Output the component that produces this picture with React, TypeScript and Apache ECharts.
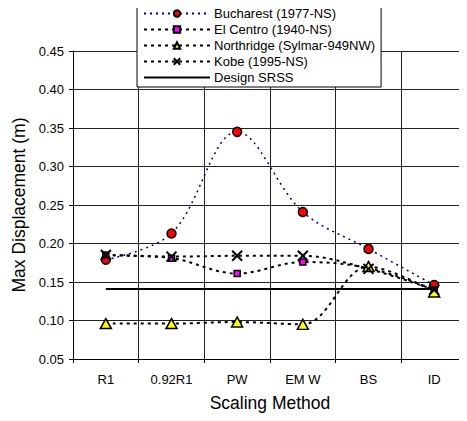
import React, { useEffect, useRef } from "react";
import * as echarts from "echarts";

const categories = ["R1", "0.92R1", "PW", "EM W", "BS", "ID"];
const bucharest = [0.179, 0.213, 0.345, 0.241, 0.193, 0.146];
const elCentro = [0.185, 0.181, 0.161, 0.176, 0.168, 0.14];
const northridge = [0.096, 0.096, 0.098, 0.095, 0.17, 0.137];
const kobe = [0.185, 0.183, 0.184, 0.184, 0.167, 0.14];
const designSRSS = [0.141, 0.141, 0.141, 0.141, 0.141, 0.141];
const seriesNames = [
  "Bucharest (1977-NS)",
  "El Centro (1940-NS)",
  "Northridge (Sylmar-949NW)",
  "Kobe (1995-NS)",
  "Design SRSS",
];

const FONT = "'Liberation Sans', Arial, sans-serif";

export default function App() {
  const ref = useRef<HTMLDivElement>(null);
  useEffect(() => {
    if (!ref.current) return;
    const chart = echarts.init(ref.current, null, { renderer: "svg" });
    const dashed = { color: "#000", width: 2, type: [3, 4] as number[] };
    chart.setOption({
      animation: false,
      backgroundColor: "#fff",
      textStyle: { fontFamily: FONT, color: "#000" },
      grid: { left: 73, top: 51, width: 397, bottom: 62 },
      legend: {
        orient: "vertical",
        left: 137,
        top: 4,
        padding: [3, 6, 3, 6],
        itemGap: 3,
        itemWidth: 66,
        itemHeight: 8,
        backgroundColor: "#fff",
        borderColor: "#000",
        borderWidth: 1,
        borderRadius: 0,
        textStyle: { fontFamily: FONT, fontSize: 13, color: "#000", padding: [0, 0, 0, -1] },
        data: [
          seriesNames[0],
          seriesNames[1],
          seriesNames[2],
          seriesNames[3],
          { name: seriesNames[4], itemStyle: { opacity: 0 } },
        ],
      },
      xAxis: {
        type: "category",
        data: categories,
        boundaryGap: true,
        name: "Scaling Method",
        nameLocation: "middle",
        nameGap: 35,
        nameTextStyle: { fontFamily: FONT, fontSize: 17.5, color: "#000" },
        axisLine: { lineStyle: { color: "#000", width: 1 } },
        axisTick: { show: true, length: 4, inside: false, lineStyle: { color: "#000" } },
        axisLabel: { fontFamily: FONT, fontSize: 13, color: "#000", margin: 14 },
        splitLine: { show: true, lineStyle: { color: "#222", width: 1 } },
      },
      yAxis: {
        type: "value",
        min: 0.05,
        max: 0.45,
        interval: 0.05,
        name: "Max Displacement (m)",
        nameLocation: "middle",
        nameGap: 45,
        nameTextStyle: { fontFamily: FONT, fontSize: 17.5, color: "#000" },
        axisLine: { show: true, lineStyle: { color: "#000", width: 1 } },
        axisTick: { show: true, length: 4, lineStyle: { color: "#000" } },
        axisLabel: {
          fontFamily: FONT,
          fontSize: 13,
          color: "#000",
          margin: 9,
          formatter: (v: number) => v.toFixed(2),
        },
        splitLine: { show: true, lineStyle: { color: "#222", width: 1 } },
      },
      series: [
        {
          name: seriesNames[0],
          type: "line",
          data: bucharest,
          smooth: 0.35,
          symbol: "circle",
          symbolSize: 9,
          itemStyle: { color: "#ff0000", borderColor: "#000", borderWidth: 1.5 },
          lineStyle: { color: "#000080", width: 1.5, type: [2, 4] },
        },
        {
          name: seriesNames[1],
          type: "line",
          data: elCentro,
          smooth: 0.35,
          symbol: "rect",
          symbolSize: 6,
          itemStyle: { color: "#ff00ff", borderColor: "#000", borderWidth: 1.5 },
          lineStyle: dashed,
        },
        {
          name: seriesNames[2],
          type: "line",
          data: northridge,
          smooth: 0.35,
          symbol: "triangle",
          symbolSize: [11, 10],
          itemStyle: { color: "#ffff00", borderColor: "#000", borderWidth: 1.5 },
          lineStyle: dashed,
        },
        {
          name: seriesNames[3],
          type: "line",
          data: kobe,
          smooth: 0.35,
          symbol: "path://M0,0 L10,10 M10,0 L0,10",
          symbolSize: 10,
          itemStyle: { color: "none", borderColor: "#000", borderWidth: 2 },
          lineStyle: dashed,
        },
        {
          name: seriesNames[4],
          type: "line",
          data: designSRSS,
          symbol: "none",
          lineStyle: { color: "#000", width: 2, type: "solid" },
          itemStyle: { color: "#000" },
        },
      ],
    });
    return () => chart.dispose();
  }, []);
  return <div ref={ref} style={{ width: 467, height: 421, margin: -8 }} />;
}
